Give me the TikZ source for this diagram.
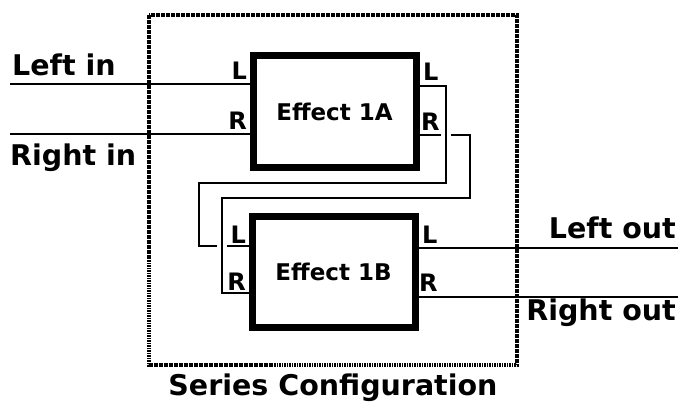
\documentclass[tikz,border=0pt]{standalone}
\usepackage{fontspec}
\setmainfont{DejaVu Sans}
\usetikzlibrary{positioning,calc}

\begin{document}
\begin{tikzpicture}[
  x=1pt, y=-1pt,
  every node/.style={font=\bfseries, inner sep=0pt},
  fx/.style={draw, line width=7pt, minimum width=163pt, minimum height=111pt, font=\bfseries\fontsize{23}{26}\selectfont},
  port/.style={font=\bfseries\fontsize{24}{26}\selectfont},
  txt/.style={font=\bfseries\fontsize{28.5}{32}\selectfont},
  wire/.style={line width=2pt},
  halo/.style={preaction={draw=white, line width=10pt}},
  frame/.style={line width=4.5pt, dash pattern=on 1.6pt off 0.9pt}
]
\useasboundingbox (0,0) rectangle (678,404);
\node[fx] (e1a) at (334.5,111.5) {Effect 1A};
\node[fx] (e1b) at (333.5,271.5) {Effect 1B};
\coordinate (lin) at (10,84);
\coordinate (rin) at (10,134);
\coordinate (lout) at (678,248);
\coordinate (rout) at (678,297);
\draw[wire] (lin) -- (lin -| e1a.west);
\draw[wire] (rin) -- (rin -| e1a.west);
\draw[wire] (e1a.east |- 0,135) -- (470,135) -- (470,198) -- (222,198) -- (222,293) -- (e1b.west |- 0,293);
\draw[wire, halo] (e1a.east |- 0,86) -- (446,86) -- (446,183) -- (199,183) -- (199,246) -- (e1b.west |- 0,246);
\draw[wire, halo] (222,232) -- (222,260);
\draw[wire] (e1b.east |- lout) -- (lout);
\draw[wire] (e1b.east |- rout) -- (rout);
\draw[frame] (149,15) rectangle (517,365);
\node[port, anchor=base east] (a-li) at (247,80) {L};
\node[port, anchor=base east] (a-ri) at (247,129) {R};
\node[port, anchor=base west] (a-lo) at (423,81) {L};
\node[port, anchor=base west] (a-ro) at (421,130) {R};
\node[port, anchor=base east] (b-li) at (246,243) {L};
\node[port, anchor=base east] (b-ri) at (246,290) {R};
\node[port, anchor=base west] (b-lo) at (422,243) {L};
\node[port, anchor=base west] (b-ro) at (419,291) {R};
\node[txt, anchor=base west] (lintxt) at (12,76) {Left in};
\node[txt, anchor=base west] (rintxt) at (10,165) {Right in};
\node[txt, anchor=base east] (louttxt) at (676,238) {Left out};
\node[txt, anchor=base east] (routtxt) at (676,320) {Right out};
\node[txt, anchor=base] (title) at (333,395) {Series Configuration};
\end{tikzpicture}
\end{document}
